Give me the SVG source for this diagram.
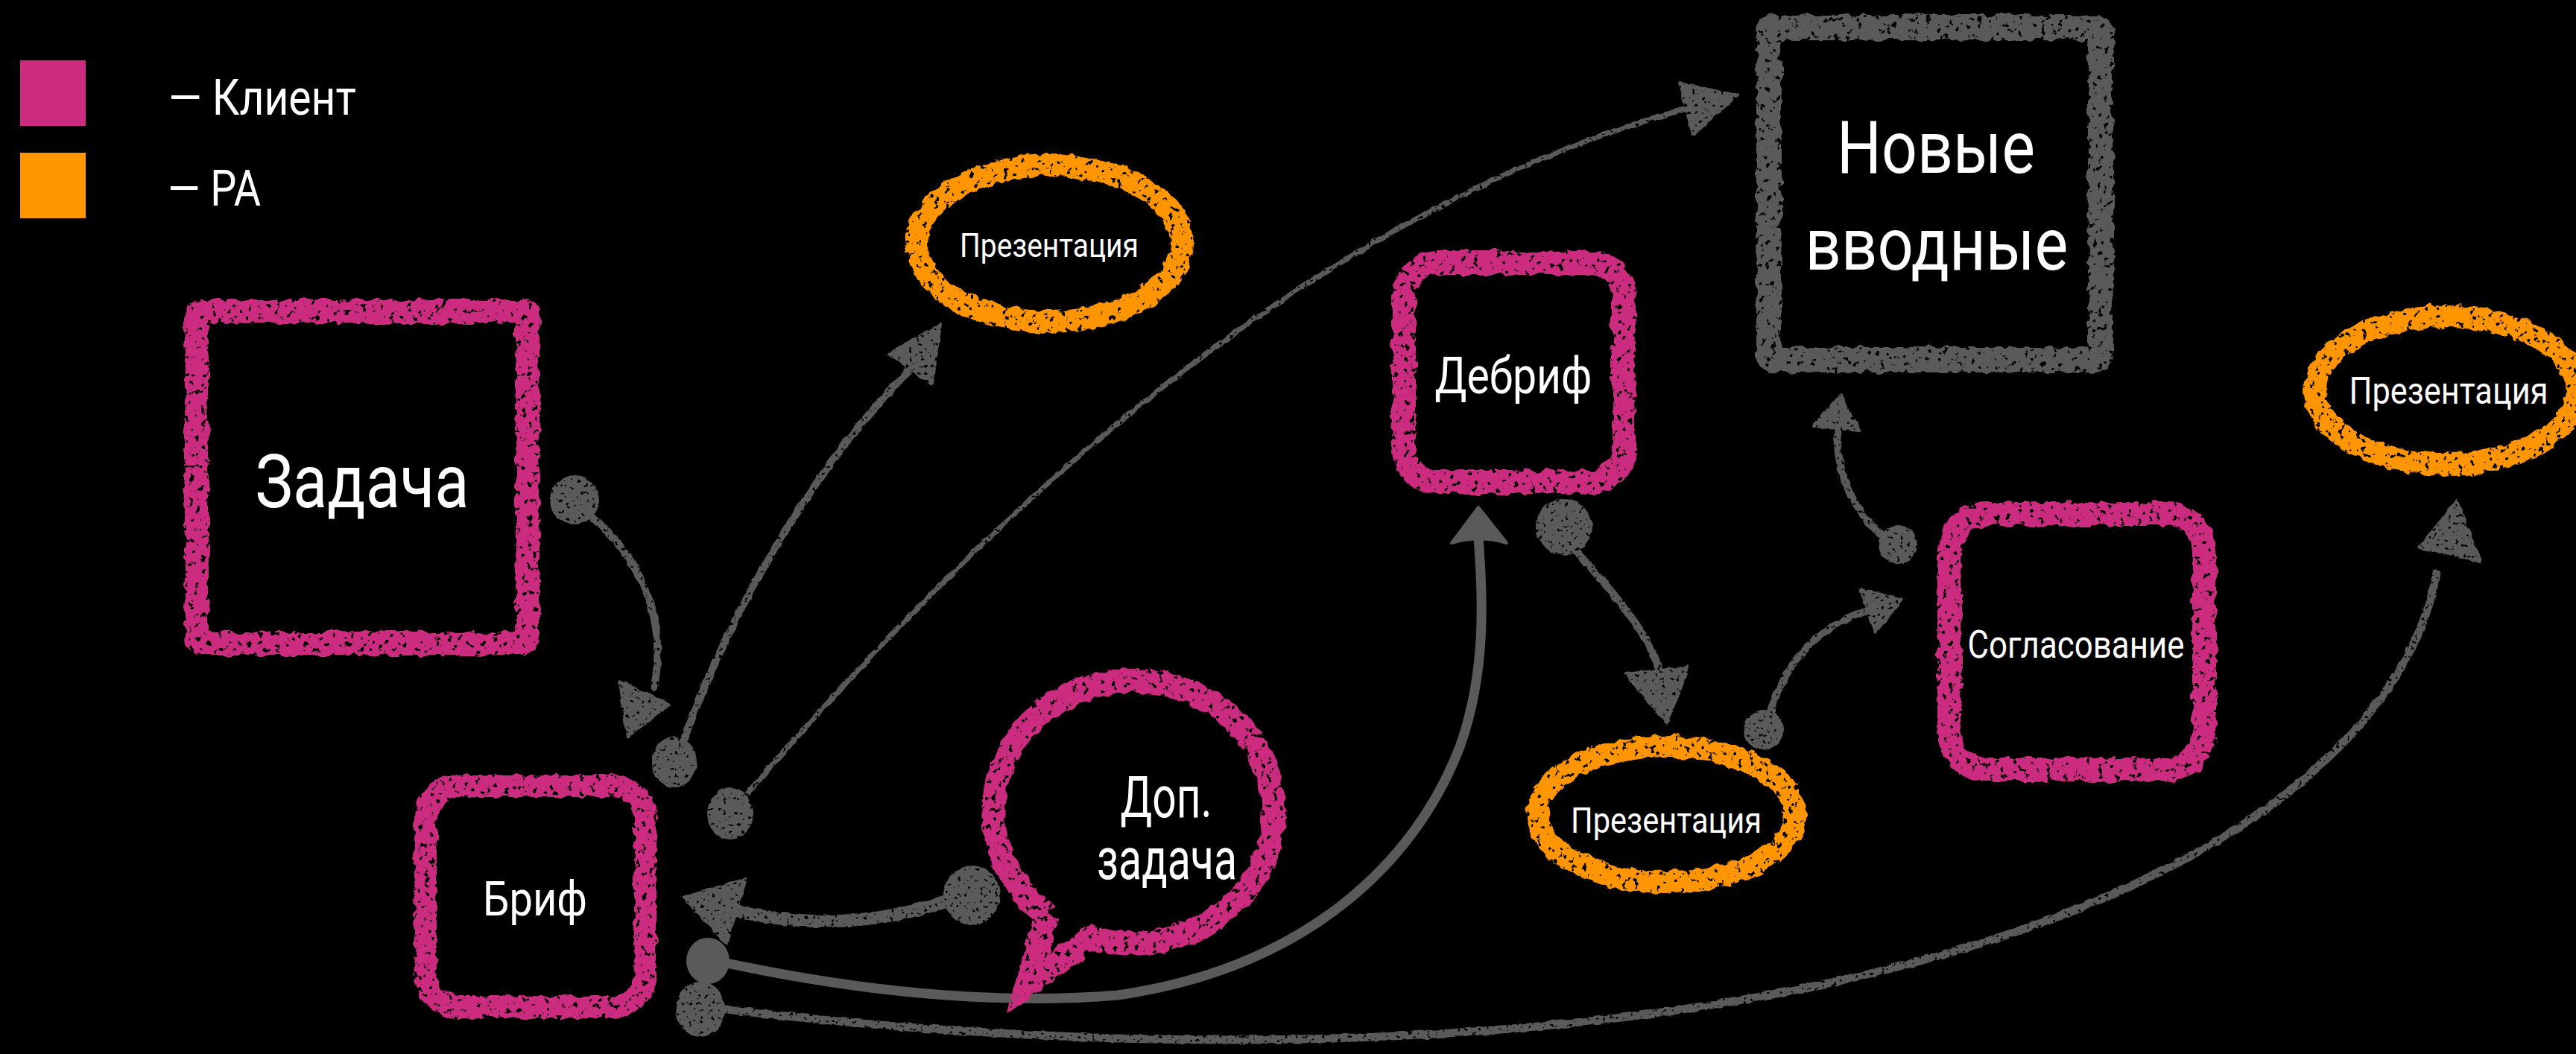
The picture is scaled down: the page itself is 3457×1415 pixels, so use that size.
<svg xmlns="http://www.w3.org/2000/svg" width="3457" height="1415" viewBox="0 0 3457 1415">
<defs>
<style>
.txt{fill:#fff;font-family:Roboto,"Liberation Sans",sans-serif;text-anchor:middle}
.leg{fill:#fff;font-family:Roboto,"Liberation Sans",sans-serif}
.mag{fill:none;stroke:#cc2c7f}
.org{fill:none;stroke:#ff9500}
.gry{fill:none;stroke:#5a5a5a}
.con{fill:none;stroke:#5a5a5a;stroke-linecap:round;stroke-linejoin:round}
.head{fill:#5a5a5a;stroke:#5a5a5a;stroke-width:4;stroke-linejoin:round}
.ball{fill:#5a5a5a}
</style>
<filter id="chalk" x="-10%" y="-10%" width="120%" height="120%" color-interpolation-filters="sRGB">
<feTurbulence type="fractalNoise" baseFrequency="0.07" numOctaves="2" seed="2" result="n"/>
<feDisplacementMap in="SourceGraphic" in2="n" scale="11" xChannelSelector="R" yChannelSelector="G" result="d"/>
<feTurbulence type="fractalNoise" baseFrequency="0.13" numOctaves="3" seed="9" result="n2"/>
<feColorMatrix in="n2" type="matrix" values="0 0 0 0 0  0 0 0 0 0  0 0 0 0 0  -14 0 0 0 9.9" result="m"/>
<feComposite in="d" in2="m" operator="in"/>
</filter>
<filter id="chalkG" filterUnits="userSpaceOnUse" x="0" y="0" width="3457" height="1415" color-interpolation-filters="sRGB">
<feTurbulence type="fractalNoise" baseFrequency="0.08" numOctaves="2" seed="5" result="n"/>
<feDisplacementMap in="SourceGraphic" in2="n" scale="5" xChannelSelector="R" yChannelSelector="G" result="d"/>
<feTurbulence type="fractalNoise" baseFrequency="0.2" numOctaves="2" seed="11" result="n2"/>
<feColorMatrix in="n2" type="matrix" values="0 0 0 0 0  0 0 0 0 0  0 0 0 0 0  -14 0 0 0 10.1" result="m"/>
<feComposite in="d" in2="m" operator="in"/>
</filter>
</defs>
<rect width="3457" height="1415" fill="#000"/>

<g id="legend">
<rect x="27" y="81" width="88" height="88" fill="#cc2c7f"/>
<rect x="27" y="205" width="88" height="88" fill="#ff9500"/>
<text class="leg" x="226" y="154" font-size="66" textLength="252" lengthAdjust="spacingAndGlyphs">— Клиент</text>
<text class="leg" x="225" y="276" font-size="66" textLength="125" lengthAdjust="spacingAndGlyphs">— РА</text>
</g>

<g id="connectors">
<g filter="url(#chalkG)">
<!-- Задача -> Бриф -->
<ellipse class="ball" cx="771" cy="671" rx="33" ry="33"/>
<path class="con" stroke-width="10" d="M795,695 C860,750 895,830 878,922"/>
<polygon class="head" points="832,915 898,946 842,989"/>
<!-- Бриф -> Презентация 1 -->
<ellipse class="ball" cx="905" cy="1023" rx="30" ry="34"/>
<path class="con" stroke-width="10" d="M918,992 C970,850 1070,650 1222,495"/>
<polygon class="head" points="1262,436 1193,475 1251,515"/>
<!-- Бриф -> Новые вводные -->
<ellipse class="ball" cx="980" cy="1092" rx="31" ry="35"/>
<path class="con" stroke-width="7" d="M1003,1065 C1250,780 1700,300 2263,146"/>
<polygon class="head" points="2331,128 2254,112 2272,180"/>
<!-- Доп. задача -> Бриф -->
<ellipse class="ball" cx="1304" cy="1202" rx="38" ry="40"/>
<path class="con" stroke-width="17" d="M1268,1210 Q1140,1255 990,1224"/>
<polygon class="head" points="918,1205 1001,1180 975,1267"/>
<!-- Бриф -> Презентация 3 -->
<ellipse class="ball" cx="940" cy="1355" rx="33" ry="37"/>
<path class="con" stroke-width="11" d="M975,1355 C1600,1430 2400,1420 2900,1170 C3100,1070 3240,930 3270,770"/>
<polygon class="head" points="3297,673 3247,735 3328,753"/>
<!-- Дебриф -> Презентация 2 -->
<ellipse class="ball" cx="2099" cy="707" rx="38" ry="38"/>
<path class="con" stroke-width="10" d="M2115,740 C2160,790 2215,850 2228,905"/>
<polygon class="head" points="2182,905 2265,896 2237,971"/>
<!-- Презентация 2 -> Согласование -->
<ellipse class="ball" cx="2367" cy="980" rx="27" ry="27"/>
<path class="con" stroke-width="10" d="M2376,955 C2400,880 2450,835 2507,820"/>
<polygon class="head" points="2552,805 2497,791 2517,848"/>
<!-- Согласование -> Новые вводные -->
<ellipse class="ball" cx="2547" cy="731" rx="26" ry="26"/>
<path class="con" stroke-width="10" d="M2525,718 C2480,680 2462,620 2467,575"/>
<polygon class="head" points="2470,531 2434,572 2496,578"/>
</g>
<g>
<!-- Бриф -> Дебриф (smooth) -->
<ellipse class="ball" cx="950" cy="1290" rx="29" ry="31"/>
<path class="con" stroke-width="13" d="M975,1293 C1150,1330 1330,1350 1500,1336 C1750,1300 1900,1160 1960,1000 C1995,900 1990,800 1984,722"/>
<path class="head" d="M1984,681 L2022,729 Q1986,718 1948,729 Z"/>
</g>
</g>

<g id="node-zadacha">
<rect class="mag" filter="url(#chalk)" x="264" y="418" width="444" height="446" rx="8" stroke-width="32"/>
<text class="txt" x="486" y="681" font-size="100" textLength="287" lengthAdjust="spacingAndGlyphs">Задача</text>
</g>

<g id="node-brif">
<rect class="mag" filter="url(#chalk)" x="571" y="1055" width="295" height="297" rx="45" stroke-width="30"/>
<text class="txt" x="718" y="1229" font-size="65" textLength="140" lengthAdjust="spacingAndGlyphs">Бриф</text>
</g>

<g id="node-prez1">
<ellipse class="org" filter="url(#chalk)" cx="1408" cy="327" rx="178" ry="105" stroke-width="30"/>
<text class="txt" x="1408" y="345" font-size="45" textLength="240" lengthAdjust="spacingAndGlyphs">Презентация</text>
</g>

<g id="node-dopzadacha">
<path class="mag" filter="url(#chalk)" stroke-width="32" stroke-linejoin="miter" d="M1405,1228 L1378,1322 L1466,1258 A188,176 0 1 0 1405,1228"/>
<text class="txt" x="1565" y="1097" font-size="77" textLength="123" lengthAdjust="spacingAndGlyphs">Доп.</text>
<text class="txt" x="1566" y="1180" font-size="77" textLength="188" lengthAdjust="spacingAndGlyphs">задача</text>
</g>

<g id="node-debrif">
<rect class="mag" filter="url(#chalk)" x="1884" y="353" width="295" height="294" rx="45" stroke-width="32"/>
<text class="txt" x="2031" y="528" font-size="69" textLength="211" lengthAdjust="spacingAndGlyphs">Дебриф</text>
</g>

<g id="node-novye">
<rect class="gry" filter="url(#chalk)" x="2374" y="37" width="445" height="446" rx="6" stroke-width="34"/>
<text class="txt" x="2598" y="232" font-size="98" textLength="266" lengthAdjust="spacingAndGlyphs">Новые</text>
<text class="txt" x="2599" y="362" font-size="98" textLength="353" lengthAdjust="spacingAndGlyphs">вводные</text>
</g>

<g id="node-prez2">
<ellipse class="org" filter="url(#chalk)" cx="2236" cy="1093" rx="173" ry="91" stroke-width="30"/>
<text class="txt" x="2236" y="1118" font-size="48" textLength="256" lengthAdjust="spacingAndGlyphs">Презентация</text>
</g>

<g id="node-soglasovanie">
<rect class="mag" filter="url(#chalk)" x="2616" y="690" width="342" height="343" rx="50" stroke-width="32"/>
<text class="txt" x="2786" y="883" font-size="52" textLength="291" lengthAdjust="spacingAndGlyphs">Согласование</text>
</g>

<g id="node-prez3">
<ellipse class="org" filter="url(#chalk)" cx="3283" cy="524" rx="176" ry="99" stroke-width="30"/>
<text class="txt" x="3286" y="542" font-size="50" textLength="267" lengthAdjust="spacingAndGlyphs">Презентация</text>
</g>
</svg>
